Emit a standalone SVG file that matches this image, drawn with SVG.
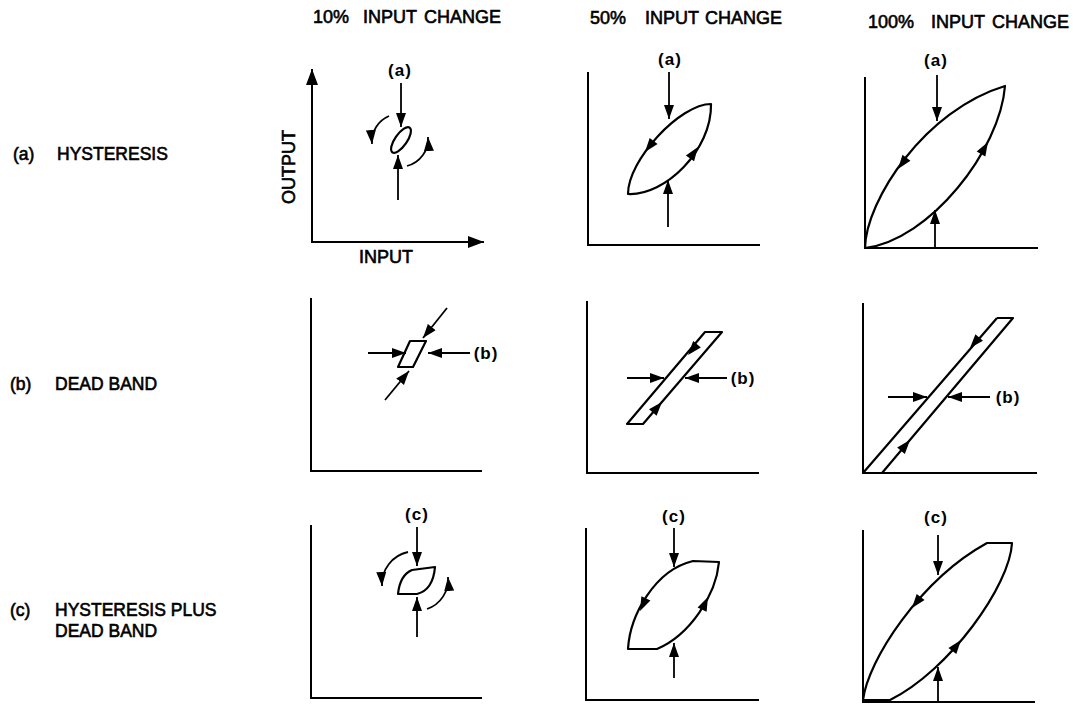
<svg xmlns="http://www.w3.org/2000/svg" xmlns:xlink="http://www.w3.org/1999/xlink" width="1073" height="704" viewBox="0 0 1073 704">
<style>
.ax{stroke:#000;stroke-width:2;fill:none}
.lp{stroke:#000;stroke-width:2.2;fill:none;stroke-linejoin:round}
.ar{stroke:#000;stroke-width:1.8;fill:none;marker-end:url(#ah)}
.t{font-family:"Liberation Sans",Arial,sans-serif;font-size:18px;fill:#000;stroke:#000;stroke-width:0.6}
.r{font-size:17.5px}
.lb{font-family:"Liberation Sans",Arial,sans-serif;font-size:17px;font-weight:bold;letter-spacing:1px;fill:#000;text-anchor:middle}
</style>
<defs>
<marker id="ah" markerUnits="userSpaceOnUse" markerWidth="15" markerHeight="11" refX="14" refY="5.5" orient="auto"><path d="M0,0.5 L14,5.5 L0,10.5 Z" fill="#000"/></marker>
<marker id="ahb" markerUnits="userSpaceOnUse" markerWidth="17" markerHeight="13" refX="16" refY="6.5" orient="auto"><path d="M0,0.5 L16,6.5 L0,12.5 Z" fill="#000"/></marker>
<path id="h" d="M0,0 L-14,-5 L-14,5 Z" fill="#000"/>
</defs>
<rect width="1073" height="704" fill="#fff"/>

<g id="titles" class="t">
<text y="23"><tspan x="313">10%</tspan><tspan x="363">INPUT</tspan><tspan x="424">CHANGE</tspan></text>
<text y="24"><tspan x="590">50%</tspan><tspan x="645">INPUT</tspan><tspan x="705">CHANGE</tspan></text>
<text y="28"><tspan x="868">100%</tspan><tspan x="931">INPUT</tspan><tspan x="992">CHANGE</tspan></text>
</g>

<g id="row-labels" class="t r">
<text y="160"><tspan x="13">(a)</tspan><tspan x="57">HYSTERESIS</tspan></text>
<text y="390"><tspan x="10">(b)</tspan><tspan x="55">DEAD BAND</tspan></text>
<text y="616"><tspan x="10">(c)</tspan><tspan x="55">HYSTERESIS PLUS</tspan></text>
<text y="637" x="55">DEAD BAND</text>
</g>

<g id="panel-a1">
<line class="ax" x1="312" y1="243" x2="312" y2="69" marker-end="url(#ahb)"/>
<line class="ax" x1="311" y1="242" x2="484" y2="242" marker-end="url(#ahb)"/>
<text class="t" transform="translate(295,167) rotate(-90)" text-anchor="middle">OUTPUT</text>
<text class="t" x="386" y="263" text-anchor="middle">INPUT</text>
<ellipse class="lp" cx="401" cy="140" rx="15" ry="6" transform="rotate(-55 401 140)"/>
<text class="lb" x="400" y="76">(a)</text>
</g>

<g id="panel-a2">
<polyline class="ax" points="588,72 588,245 760,245"/>
<path class="lp" d="M711,104 C680,104 628,160 628,194 C665,196 712,150 711,104 Z"/>
<use xlink:href="#h" transform="translate(645,152) rotate(128)"/>
<use xlink:href="#h" transform="translate(698,147) rotate(-55)"/>
<text class="lb" x="670" y="65">(a)</text>
</g>

<g id="panel-a3">
<polyline class="ax" points="865,77 865,248 1038,248"/>
<path class="lp" d="M865,248 C866,200 925,110 1005,86 C1000,150 930,240 865,248 Z"/>
<use xlink:href="#h" transform="translate(898,169) rotate(127)"/>
<use xlink:href="#h" transform="translate(988,142) rotate(-60)"/>
<text class="lb" x="936" y="66">(a)</text>
</g>

<g id="panel-b1">
<polyline class="ax" points="311,298 311,471 482,471"/>
<path class="lp" d="M398,367 L413,367 L426,341 L410,341 Z"/>
<text class="lb" x="486" y="359">(b)</text>
</g>

<g id="panel-b2">
<polyline class="ax" points="587,301 587,473 759,473"/>
<path class="lp" d="M705,332 L722,332 L643,424 L627,424 Z"/>
<use xlink:href="#h" transform="translate(688,355) rotate(130)"/>
<use xlink:href="#h" transform="translate(662,402) rotate(-49)"/>
<text class="lb" x="743" y="384">(b)</text>
</g>

<g id="panel-b3">
<polyline class="ax" points="863,303 863,473 1037,473"/>
<path class="lp" d="M997,318 L1013,318 L882,473 M863,473 L997,318"/>
<use xlink:href="#h" transform="translate(970,348) rotate(131)"/>
<use xlink:href="#h" transform="translate(910,440) rotate(-50)"/>
<text class="lb" x="1008" y="403">(b)</text>
</g>

<g id="panel-c1">
<polyline class="ax" points="311,525 311,698 482,698"/>
<path class="lp" d="M412,570 L435,567 Q433,590 417,594 L398,594 Q400,575 412,570 Z"/>
<text class="lb" x="417" y="520">(c)</text>
</g>

<g id="panel-c2">
<polyline class="ax" points="586,528 586,700 759,700"/>
<path class="lp" d="M628,649 C630,615 655,570 693,561 L719,562 C716,595 690,635 657,649 Z"/>
<use xlink:href="#h" transform="translate(640,611) rotate(115)"/>
<use xlink:href="#h" transform="translate(708,597) rotate(-65)"/>
<text class="lb" x="674" y="522">(c)</text>
</g>

<g id="panel-c3">
<polyline class="ax" points="863,530 863,702 1035,702"/>
<path class="lp" d="M863,700 C868,660 920,580 987,543 L1012,543 C1010,585 950,670 890,700 Z"/>
<use xlink:href="#h" transform="translate(912,608) rotate(128)"/>
<use xlink:href="#h" transform="translate(961,640) rotate(-52)"/>
<text class="lb" x="936" y="523">(c)</text>
</g>

<g id="connectors">
<line class="ar" x1="401" y1="83" x2="401" y2="127"/>
<line class="ar" x1="398" y1="200" x2="398" y2="155"/>
<path class="ar" d="M389,116 A28,28 0 0,0 372,144"/>
<path class="ar" d="M407,166 A28,28 0 0,0 428,137"/>
<line class="ar" x1="669" y1="72" x2="669" y2="119"/>
<line class="ar" x1="668" y1="227" x2="668" y2="180"/>
<line class="ar" x1="937" y1="75" x2="937" y2="121"/>
<line class="ar" x1="935" y1="248" x2="935" y2="210"/>
<line class="ar" x1="447" y1="308" x2="423" y2="338"/>
<line class="ar" x1="385" y1="400" x2="409" y2="371"/>
<line class="ar" x1="368" y1="353" x2="406" y2="353"/>
<line class="ar" x1="470" y1="353" x2="428" y2="353"/>
<line class="ar" x1="627" y1="378" x2="664" y2="378"/>
<line class="ar" x1="727" y1="378" x2="685" y2="378"/>
<line class="ar" x1="888" y1="397" x2="927" y2="397"/>
<line class="ar" x1="990" y1="397" x2="948" y2="397"/>
<line class="ar" x1="417" y1="527" x2="417" y2="566"/>
<line class="ar" x1="417" y1="637" x2="417" y2="597"/>
<path class="ar" d="M408,552 A33,33 0 0,0 382,586"/>
<path class="ar" d="M427,609 A31,31 0 0,0 448,577"/>
<line class="ar" x1="674" y1="528" x2="674" y2="567"/>
<line class="ar" x1="674" y1="678" x2="674" y2="643"/>
<line class="ar" x1="938" y1="535" x2="938" y2="575"/>
<line class="ar" x1="938" y1="702" x2="938" y2="667"/>
</g>
</svg>
